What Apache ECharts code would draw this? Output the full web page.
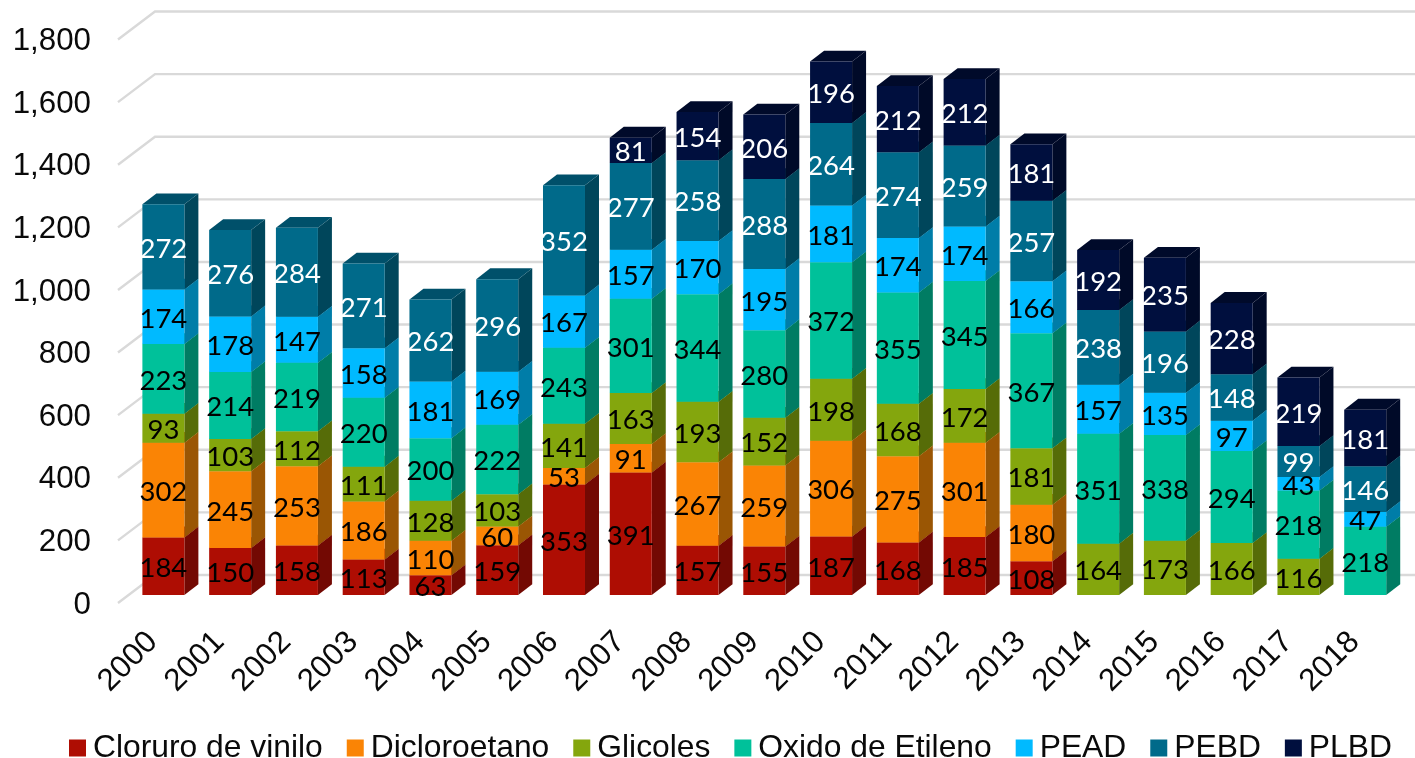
<!DOCTYPE html>
<html><head><meta charset="utf-8">
<style>html,body{margin:0;padding:0;background:#fff}#c{width:1415px;height:758px}</style>
<script src="https://cdn.jsdelivr.net/npm/echarts@6/dist/echarts.min.js"></script>
</head><body><div id="c"></div>
<script>
const years = ['2000','2001','2002','2003','2004','2005','2006','2007','2008','2009','2010','2011','2012','2013','2014','2015','2016','2017','2018'];
const yTicks = [0,200,400,600,800,1000,1200,1400,1600,1800];
const cloruro = [184,150,158,113,63,159,353,391,157,155,187,168,185,108,0,0,0,0,0];
const dicloroetano = [302,245,253,186,110,60,53,91,267,259,306,275,301,180,0,0,0,0,0];
const glicoles = [93,103,112,111,128,103,141,163,193,152,198,168,172,181,164,173,166,116,0];
const oxido = [223,214,219,220,200,222,243,301,344,280,372,355,345,367,351,338,294,218,218];
const pead = [174,178,147,158,181,169,167,157,170,195,181,174,174,166,157,135,97,43,47];
const pebd = [272,276,284,271,262,296,352,277,258,288,264,274,259,257,238,196,148,99,146];
const plbd = [0,0,0,0,0,0,0,81,154,206,196,212,212,181,192,235,228,219,181];
const names = ['Cloruro de vinilo','Dicloroetano','Glicoles','Oxido de Etileno','PEAD','PEBD','PLBD'];
const values = [cloruro,dicloroetano,glicoles,oxido,pead,pebd,plbd];
const front = ['#AE0D03','#FA8405','#84A60D','#00C19A','#00BAFF','#006A8A','#000F3E'];
const side  = ['#730903','#9A5604','#566C08','#007C63','#007DA8','#00465B','#000A28'];
const topc  = ['#8E0B03','#C96C04','#6C880A','#009E7E','#0098D0','#00506A','#000A2A'];
const labelc= ['#000','#000','#000','#000','#000','#fff','#fff'];

const W = 42, DX = 14, DY = 10.8, LIFT = 10;
const base = years.map(() => 0);
const series = [{
  type:'custom', name:'grid', silent:true, z:1, clip:false,
  data: yTicks.map(t => [0,t]),
  renderItem(p, api){
    const c = api.coord([0, api.value(1)]);
    const cs = p.coordSys;
    const x0 = cs.x - 12, x1 = cs.x + 25, x2 = cs.x + cs.width + 17, y = c[1] - 2, yb = y - 28;
    return {type:'polyline', silent:true, shape:{points:[[x0,y],[x1,yb],[x2,yb]]},
      style:{fill:null, stroke:'#D9D9D9', lineWidth:2.4}};
  }
}];
values.forEach((arr, s) => {
  const data = [];
  arr.forEach((v, i) => { if (v > 0) { data.push([i, base[i], base[i] + v, v]); base[i] += v; } });
  series.push({
    type:'custom', name:names[s], z:2, clip:false,
    itemStyle:{color:front[s]},
    data,
    encode:{x:0, y:2},
    renderItem(p, api){
      const a = api.coord([api.value(0), api.value(1)]);
      const b = api.coord([api.value(0), api.value(2)]);
      const xl = a[0] - W/2, xr = a[0] + W/2, y0 = a[1] - LIFT, y1 = b[1] - LIFT;
      return {type:'group', children:[
        {type:'polygon', shape:{points:[[xr,y0],[xr+DX,y0-DY],[xr+DX,y1-DY],[xr,y1]]}, style:{fill:side[s]}},
        {type:'polygon', shape:{points:[[xl,y1],[xr,y1],[xr+DX,y1-DY],[xl+DX,y1-DY]]}, style:{fill:topc[s]}},
        {type:'rect', shape:{x:xl, y:y1, width:W, height:y0-y1}, style:{fill:front[s]}},
        {type:'text', z2:100, style:{text:String(api.value(3)), x:a[0], y:(y0+y1)/2+2, align:'center', verticalAlign:'middle',
          fill:labelc[s], font:'27.5px Lato, "Open Sans", sans-serif'}}
      ]};
    }
  });
});

const chart = echarts.init(document.getElementById('c'), null, {renderer:'canvas'});
const axisFont = {fontFamily:'"Liberation Sans", Arial, sans-serif', fontSize:31.3, color:'#0a0a0a'};
chart.setOption({
  animation:false,
  color:front,
  grid:{left:130, right:16.4, top:41.5, bottom:153, containLabel:false},
  xAxis:{type:'category', data:years, axisLine:{show:false}, axisTick:{show:false}, splitLine:{show:false},
    axisLabel:Object.assign({rotate:45, interval:0, margin:21.5, padding:[0,15,0,0]}, axisFont)},
  yAxis:{type:'value', min:0, max:1800, interval:200, axisLine:{show:false}, axisTick:{show:false}, splitLine:{show:false},
    axisLabel:Object.assign({margin:39, formatter:v => v.toLocaleString('en-US')}, axisFont)},
  legend:{data:names.map(n => ({name:n, icon:'rect'})), left:69, top:732, itemWidth:17, itemHeight:17, itemGap:24, padding:0,
    textStyle:{fontFamily:'"Liberation Sans", Arial, sans-serif', fontSize:31.8, color:'#0a0a0a', padding:[0,0,0,2]}},
  series
});
</script></body></html>
